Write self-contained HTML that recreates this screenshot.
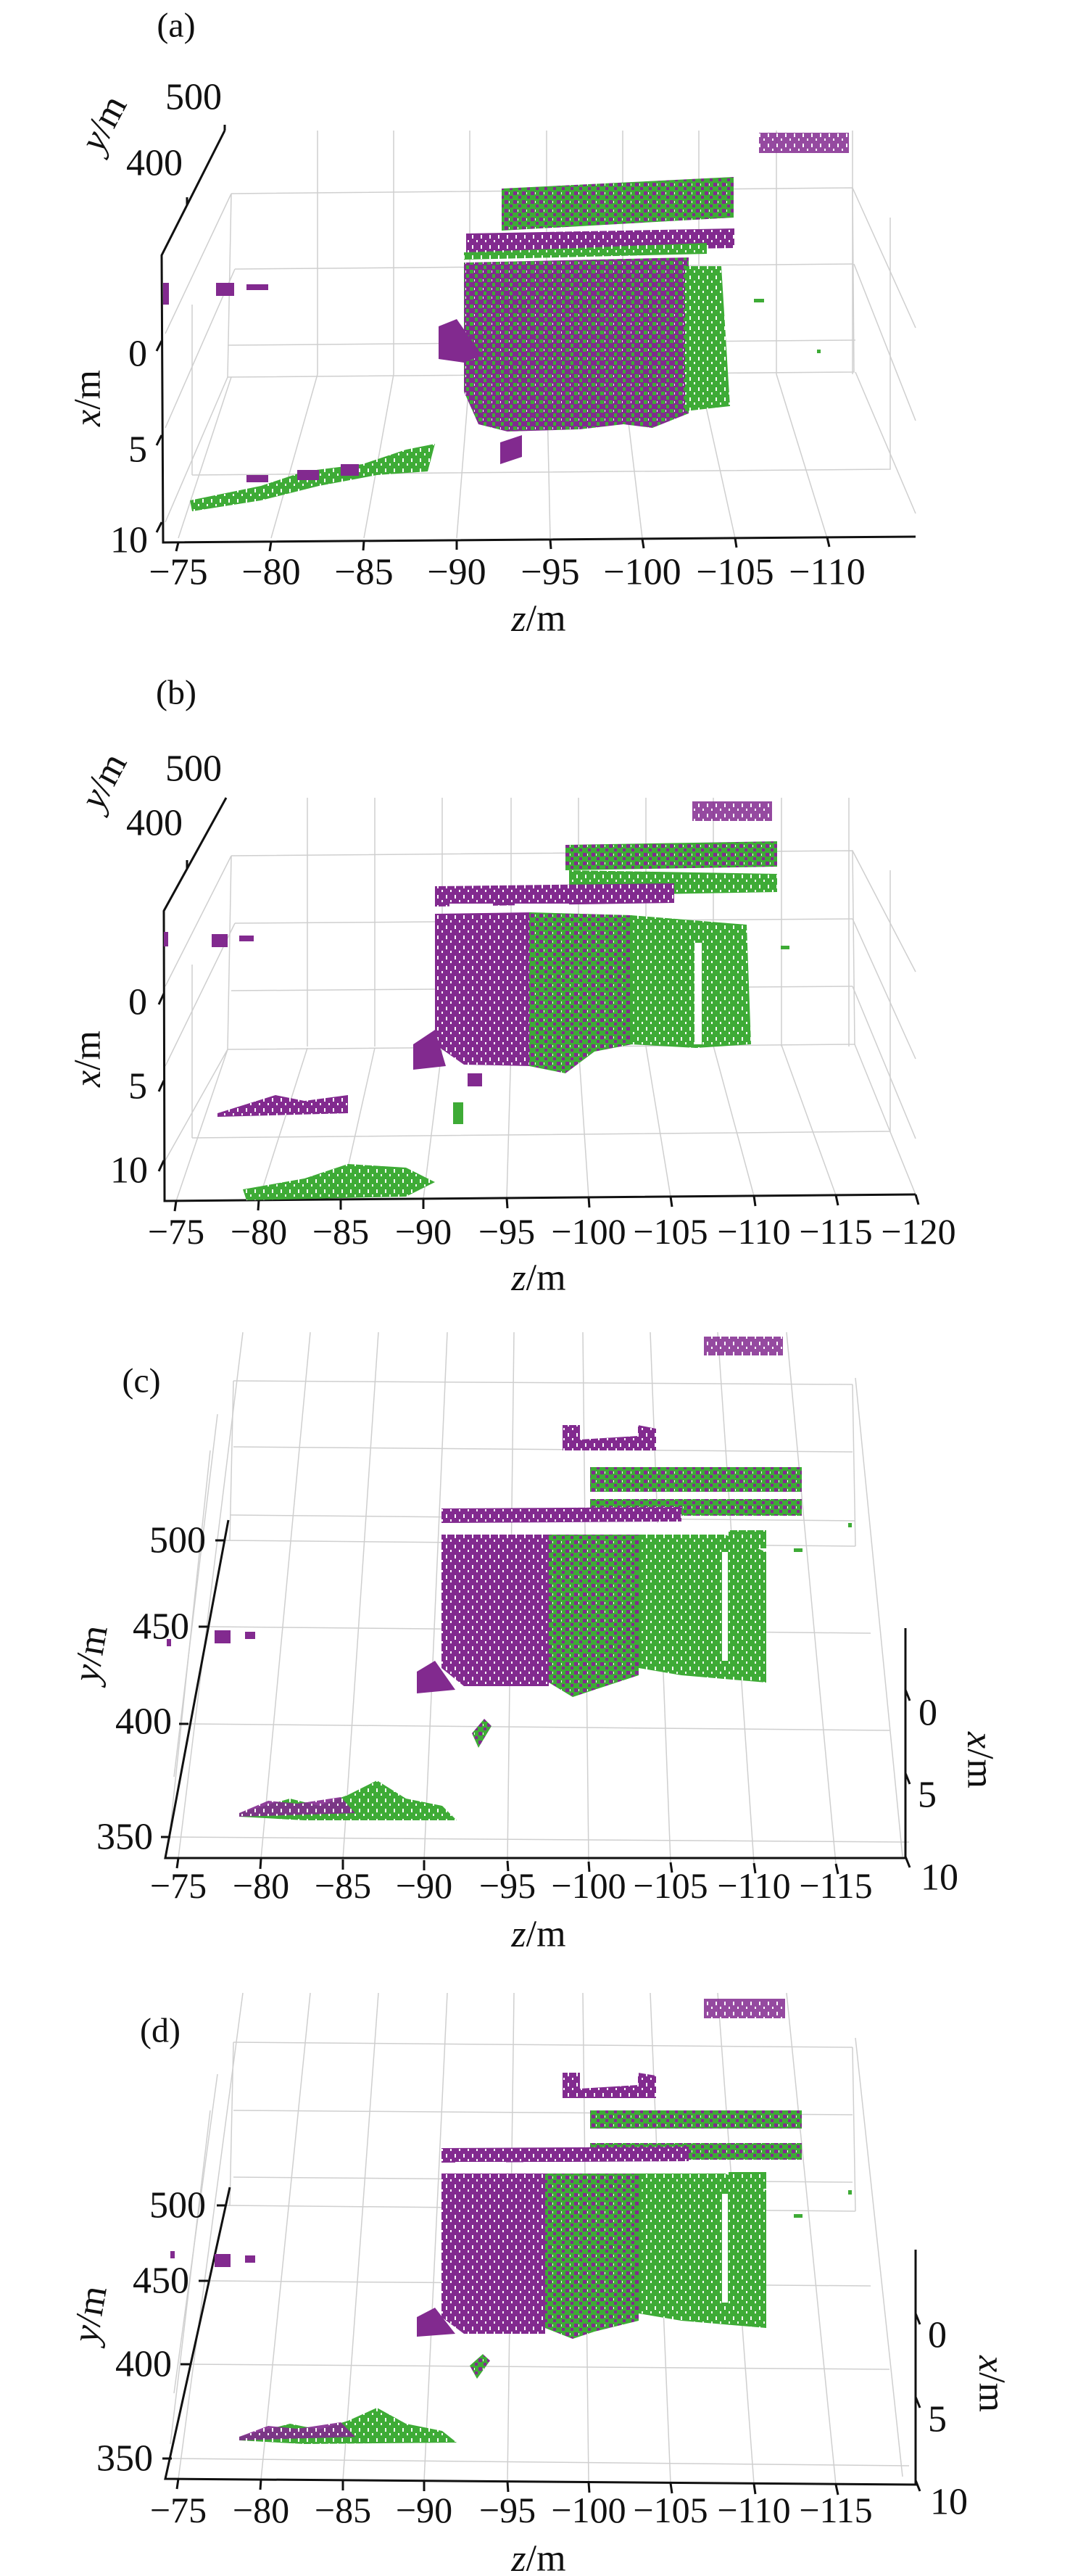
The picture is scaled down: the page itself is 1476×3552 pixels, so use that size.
<!DOCTYPE html>
<html><head><meta charset="utf-8"><style>
html,body{margin:0;padding:0;background:#fff}
svg{display:block}
text{font-family:"Liberation Serif",serif;fill:#111}
</style></head><body>
<svg width="1476" height="3552" viewBox="0 0 1476 3552" xmlns="http://www.w3.org/2000/svg">
<defs>
<pattern id="pP" width="12" height="14" patternUnits="userSpaceOnUse"><rect width="12" height="14" fill="#822a8f"/><rect x="3" y="2" width="2" height="5" fill="#fff"/><rect x="9" y="9" width="2" height="3" fill="#fff"/></pattern>
<pattern id="pG" width="12" height="14" patternUnits="userSpaceOnUse"><rect width="12" height="14" fill="#3eab36"/><rect x="3" y="2" width="2" height="5" fill="#fff"/><rect x="9" y="9" width="2" height="3" fill="#fff"/></pattern>
<pattern id="pMG" width="12" height="12" patternUnits="userSpaceOnUse"><rect width="12" height="12" fill="#3eab36"/><rect x="0" y="0" width="5" height="5" fill="#822a8f"/><rect x="7" y="6" width="4" height="4" fill="#822a8f"/><rect x="6" y="1" width="1" height="3" fill="#fff"/></pattern>
<pattern id="pMP" width="12" height="12" patternUnits="userSpaceOnUse"><rect width="12" height="12" fill="#822a8f"/><rect x="0" y="0" width="5" height="5" fill="#3eab36"/><rect x="7" y="6" width="4" height="5" fill="#3eab36"/><rect x="6" y="1" width="1" height="3" fill="#fff"/></pattern>
</defs>

<!-- ============ PANEL A ============ -->
<g stroke="#cfcfcf" stroke-width="1.5" fill="none">
<polyline points="319,267 1176,259 1178,513 314,520 319,267"/>
<line x1="324" y1="371" x2="1176" y2="364"/>
<line x1="314" y1="476" x2="1180" y2="469"/>
<polyline points="265,655 1228,647 1228,300"/>
<line x1="265" y1="655" x2="265" y2="420"/>
<line x1="438" y1="180" x2="438" y2="516"/><line x1="543" y1="180" x2="543" y2="516"/><line x1="648" y1="180" x2="648" y2="516"/><line x1="754" y1="180" x2="754" y2="516"/><line x1="859" y1="180" x2="859" y2="516"/><line x1="964" y1="180" x2="964" y2="516"/><line x1="1071" y1="180" x2="1071" y2="516"/><line x1="1176" y1="180" x2="1176" y2="516"/>
<line x1="319" y1="520" x2="246" y2="742"/><line x1="438" y1="516" x2="374" y2="742"/><line x1="543" y1="516" x2="502" y2="742"/><line x1="648" y1="516" x2="630" y2="742"/><line x1="754" y1="516" x2="759" y2="742"/><line x1="859" y1="516" x2="886" y2="742"/><line x1="964" y1="516" x2="1014" y2="742"/><line x1="1071" y1="516" x2="1141" y2="742"/>
<line x1="1176" y1="259" x2="1263" y2="452"/><line x1="1178" y1="364" x2="1263" y2="580"/><line x1="1180" y1="513" x2="1263" y2="708"/>
<line x1="319" y1="267" x2="228" y2="460"/><line x1="324" y1="371" x2="228" y2="590"/><line x1="314" y1="520" x2="228" y2="720"/>
</g>
<g stroke="#111" stroke-width="3" fill="none">
<polyline points="310,180 223,352 225,748 1263,740"/>
<line x1="310" y1="180" x2="310" y2="172"/><line x1="258" y1="283" x2="258" y2="272"/>
<line x1="223" y1="470" x2="216" y2="484"/><line x1="223" y1="600" x2="216" y2="614"/><line x1="223" y1="720" x2="216" y2="734"/>
<line x1="246" y1="748" x2="243" y2="760"/><line x1="374" y1="747" x2="372" y2="760"/><line x1="502" y1="746" x2="501" y2="759"/><line x1="630" y1="745" x2="630" y2="758"/><line x1="759" y1="744" x2="760" y2="757"/><line x1="886" y1="743" x2="888" y2="756"/><line x1="1014" y1="742" x2="1016" y2="755"/><line x1="1141" y1="741" x2="1144" y2="754"/>
</g>
<!-- clouds a -->
<rect x="1047" y="183" width="124" height="28" fill="url(#pP)" opacity="0.85"/>
<rect x="298" y="390" width="25" height="18" fill="#822a8f"/><rect x="340" y="392" width="30" height="8" fill="#822a8f"/><rect x="225" y="390" width="8" height="30" fill="#822a8f"/>
<polygon points="692,260 1012,244 1012,300 692,318" fill="url(#pMG)"/>
<polygon points="643,322 1013,315 1013,342 643,348" fill="url(#pP)"/>
<polygon points="640,348 975,335 975,350 640,358" fill="url(#pG)"/>
<polygon points="640,362 950,355 950,570 900,590 860,585 800,592 700,595 660,585 640,540" fill="url(#pMP)"/>
<polygon points="945,367 995,367 1007,560 945,567" fill="url(#pG)"/>
<polygon points="605,450 630,440 665,490 640,500 605,495" fill="#822a8f"/>
<polygon points="690,610 720,600 720,630 690,640" fill="#822a8f"/>
<polygon points="262,690 360,670 420,650 500,640 560,620 600,612 590,650 520,655 440,670 360,690 265,705" fill="url(#pG)"/>
<rect x="340" y="655" width="30" height="10" fill="#822a8f"/><rect x="410" y="648" width="30" height="14" fill="#822a8f"/><rect x="470" y="640" width="25" height="16" fill="#822a8f"/>
<rect x="1040" y="412" width="14" height="5" fill="#3eab36"/><rect x="1127" y="482" width="5" height="5" fill="#3eab36"/>
<!-- text a -->
<text x="243" y="35" font-size="48" text-anchor="middle" dominant-baseline="central">(a)</text>
<g font-size="52" text-anchor="middle" dominant-baseline="central">
<text x="267" y="134">500</text><text x="213" y="225">400</text><text x="190" y="488">0</text><text x="190" y="620">5</text><text x="178" y="745">10</text>
<text x="246" y="789">−75</text><text x="374" y="789">−80</text><text x="502" y="789">−85</text><text x="630" y="789">−90</text><text x="759" y="789">−95</text><text x="886" y="789">−100</text><text x="1014" y="789">−105</text><text x="1141" y="789">−110</text>
<text x="743" y="853"><tspan font-style="italic">z</tspan>/m</text>
<text transform="translate(143,170) rotate(-62)"><tspan font-style="italic">y</tspan>/m</text>
<text transform="translate(121,549) rotate(-90)"><tspan font-style="italic">x</tspan>/m</text>
</g>

<!-- ============ PANEL B ============ -->
<g stroke="#cfcfcf" stroke-width="1.5" fill="none">
<polyline points="319,1180 1176,1173 1179,1440 314,1447 319,1180"/>
<line x1="324" y1="1273" x2="1176" y2="1267"/><line x1="319" y1="1366" x2="1176" y2="1360"/>
<polyline points="265,1569 1228,1560 1228,1200"/><line x1="265" y1="1569" x2="265" y2="1330"/>
<line x1="424" y1="1100" x2="424" y2="1443"/><line x1="517" y1="1100" x2="517" y2="1443"/><line x1="610" y1="1100" x2="610" y2="1443"/><line x1="705" y1="1100" x2="705" y2="1443"/><line x1="798" y1="1100" x2="798" y2="1443"/><line x1="891" y1="1100" x2="891" y2="1443"/><line x1="984" y1="1100" x2="984" y2="1443"/><line x1="1078" y1="1100" x2="1078" y2="1443"/><line x1="1171" y1="1100" x2="1171" y2="1443"/>
<line x1="314" y1="1447" x2="243" y2="1656"/><line x1="424" y1="1445" x2="357" y2="1655"/><line x1="517" y1="1445" x2="470" y2="1654"/><line x1="610" y1="1444" x2="584" y2="1653"/><line x1="705" y1="1444" x2="699" y2="1652"/><line x1="798" y1="1443" x2="812" y2="1651"/><line x1="891" y1="1443" x2="925" y2="1650"/><line x1="984" y1="1442" x2="1040" y2="1649"/><line x1="1078" y1="1441" x2="1153" y2="1648"/><line x1="1179" y1="1440" x2="1263" y2="1647"/>
<line x1="1176" y1="1173" x2="1263" y2="1340"/><line x1="1176" y1="1267" x2="1263" y2="1460"/><line x1="1176" y1="1360" x2="1263" y2="1570"/>
<line x1="319" y1="1180" x2="228" y2="1360"/><line x1="324" y1="1273" x2="228" y2="1470"/><line x1="314" y1="1447" x2="228" y2="1600"/>
</g>
<g stroke="#111" stroke-width="3" fill="none">
<polyline points="312,1100 226,1256 227,1656 1263,1647"/>
<line x1="258" y1="1198" x2="258" y2="1186"/>
<line x1="226" y1="1370" x2="219" y2="1385"/><line x1="226" y1="1490" x2="219" y2="1505"/><line x1="226" y1="1600" x2="219" y2="1615"/>
<line x1="243" y1="1656" x2="241" y2="1670"/><line x1="357" y1="1655" x2="356" y2="1669"/><line x1="470" y1="1654" x2="470" y2="1668"/><line x1="584" y1="1653" x2="584" y2="1667"/><line x1="699" y1="1652" x2="700" y2="1666"/><line x1="812" y1="1651" x2="813" y2="1665"/><line x1="925" y1="1650" x2="927" y2="1664"/><line x1="1040" y1="1649" x2="1042" y2="1663"/><line x1="1153" y1="1648" x2="1156" y2="1662"/><line x1="1263" y1="1647" x2="1267" y2="1661"/>
</g>
<rect x="955" y="1105" width="110" height="27" fill="url(#pP)" opacity="0.85"/>
<rect x="292" y="1288" width="22" height="18" fill="#822a8f"/><rect x="330" y="1290" width="20" height="8" fill="#822a8f"/><rect x="226" y="1285" width="6" height="20" fill="#822a8f"/>
<polygon points="780,1165 1072,1160 1072,1195 780,1200" fill="url(#pMG)"/>
<polygon points="785,1200 1072,1205 1072,1230 785,1235" fill="url(#pG)"/>
<polygon points="600,1222 930,1218 930,1245 600,1250" fill="url(#pP)"/>
<rect x="620" y="1246" width="60" height="14" fill="#fff"/><rect x="710" y="1246" width="75" height="14" fill="#fff"/>
<polygon points="600,1260 733,1258 733,1470 640,1468 600,1440" fill="url(#pP)"/>
<polygon points="730,1258 872,1262 872,1440 820,1450 780,1480 730,1470" fill="url(#pMG)"/>
<polygon points="870,1262 1030,1275 1036,1440 960,1445 870,1440" fill="url(#pG)"/>
<rect x="958" y="1300" width="10" height="140" fill="#fff"/>
<polygon points="570,1440 600,1420 615,1470 570,1475" fill="#822a8f"/>
<rect x="645" y="1480" width="20" height="18" fill="#822a8f"/><rect x="625" y="1520" width="14" height="30" fill="#3eab36"/>
<polygon points="300,1535 380,1510 420,1518 480,1510 480,1535 300,1540" fill="url(#pP)"/>
<polygon points="335,1640 420,1625 480,1605 560,1610 600,1630 560,1650 340,1655" fill="url(#pG)"/>
<rect x="1077" y="1304" width="12" height="5" fill="#3eab36"/>
<text x="243" y="955" font-size="48" text-anchor="middle" dominant-baseline="central">(b)</text>
<g font-size="52" text-anchor="middle" dominant-baseline="central">
<text x="267" y="1060">500</text><text x="213" y="1135">400</text><text x="190" y="1382">0</text><text x="190" y="1498">5</text><text x="178" y="1614">10</text>
<g font-size="50"><text x="243" y="1698">−75</text><text x="357" y="1698">−80</text><text x="470" y="1698">−85</text><text x="584" y="1698">−90</text><text x="699" y="1698">−95</text><text x="812" y="1698">−100</text><text x="925" y="1698">−105</text><text x="1040" y="1698">−110</text><text x="1153" y="1698">−115</text><text x="1267" y="1698">−120</text></g>
<text x="743" y="1762"><tspan font-style="italic">z</tspan>/m</text>
<text transform="translate(143,1077) rotate(-62)"><tspan font-style="italic">y</tspan>/m</text>
<text transform="translate(121,1460) rotate(-90)"><tspan font-style="italic">x</tspan>/m</text>
</g>

<!-- ============ PANEL C ============ -->
<g stroke="#cfcfcf" stroke-width="1.5" fill="none">
<line x1="322" y1="1904" x2="1176" y2="1909"/><line x1="322" y1="1995" x2="1176" y2="2002"/><line x1="317" y1="2089" x2="1180" y2="2097"/>
<line x1="310" y1="2124" x2="1180" y2="2132"/><line x1="287" y1="2243" x2="1201" y2="2252"/><line x1="260" y1="2377" x2="1227" y2="2386"/><line x1="235" y1="2533" x2="1254" y2="2540"/>
<line x1="322" y1="1904" x2="317" y2="2124"/><line x1="1176" y1="1909" x2="1180" y2="2132"/>
<line x1="335" y1="1837" x2="246" y2="2562"/><line x1="428" y1="1837" x2="360" y2="2563"/><line x1="522" y1="1837" x2="473" y2="2564"/><line x1="617" y1="1837" x2="585" y2="2565"/><line x1="709" y1="1837" x2="700" y2="2566"/><line x1="804" y1="1837" x2="812" y2="2567"/><line x1="897" y1="1837" x2="925" y2="2568"/><line x1="990" y1="1837" x2="1040" y2="2569"/><line x1="1085" y1="1837" x2="1153" y2="2570"/><line x1="1180" y1="1900" x2="1245" y2="2560"/>
<line x1="300" y1="1950" x2="240" y2="2450"/><line x1="290" y1="2000" x2="235" y2="2520"/>
</g>
<g stroke="#111" stroke-width="3" fill="none">
<polyline points="315,2096 228,2562 1249,2562 1249,2245"/>
<line x1="297" y1="2124" x2="310" y2="2124"/><line x1="274" y1="2243" x2="287" y2="2243"/><line x1="247" y1="2377" x2="260" y2="2377"/><line x1="222" y1="2533" x2="235" y2="2533"/>
<line x1="1249" y1="2330" x2="1255" y2="2345"/><line x1="1249" y1="2445" x2="1255" y2="2460"/><line x1="1249" y1="2560" x2="1255" y2="2575"/>
<line x1="246" y1="2562" x2="244" y2="2576"/><line x1="360" y1="2563" x2="359" y2="2577"/><line x1="473" y1="2564" x2="473" y2="2578"/><line x1="585" y1="2565" x2="585" y2="2579"/><line x1="700" y1="2566" x2="701" y2="2580"/><line x1="812" y1="2567" x2="813" y2="2581"/><line x1="925" y1="2568" x2="927" y2="2582"/><line x1="1040" y1="2569" x2="1042" y2="2583"/><line x1="1153" y1="2570" x2="1156" y2="2584"/>
</g>
<rect x="971" y="1843" width="109" height="26" fill="url(#pP)" opacity="0.85"/>
<polygon points="776,1965 800,1965 800,1985 880,1980 880,1965 905,1970 905,2000 776,2000" fill="url(#pP)"/>
<polygon points="814,2023 1106,2023 1106,2057 814,2057" fill="url(#pMG)"/>
<polygon points="814,2067 1106,2067 1106,2090 814,2090" fill="url(#pMG)"/>
<polygon points="609,2080 940,2078 940,2098 609,2100" fill="url(#pP)"/>
<rect x="628" y="2100" width="70" height="16" fill="#fff"/><rect x="722" y="2100" width="70" height="16" fill="#fff"/><rect x="810" y="2100" width="80" height="16" fill="#fff"/><rect x="900" y="2100" width="80" height="16" fill="#fff"/>
<polygon points="609,2116 757,2116 757,2325 640,2325 609,2300" fill="url(#pP)"/>
<polygon points="757,2116 881,2116 881,2310 820,2330 790,2340 757,2320" fill="url(#pMG)"/>
<polygon points="881,2116 1000,2116 1057,2140 1057,2320 940,2310 881,2300" fill="url(#pG)"/>
<rect x="996" y="2140" width="8" height="150" fill="#fff"/>
<polygon points="1005,2110 1057,2110 1057,2135 1005,2135" fill="url(#pG)"/>
<polygon points="575,2305 600,2290 628,2330 575,2335" fill="#822a8f"/>
<polygon points="651,2390 668,2370 678,2380 660,2410" fill="url(#pMG)"/>
<rect x="296" y="2248" width="22" height="18" fill="#822a8f"/><rect x="338" y="2250" width="14" height="10" fill="#822a8f"/><rect x="230" y="2260" width="6" height="10" fill="#822a8f"/>
<polygon points="330,2500 400,2480 440,2490 480,2475 520,2455 560,2480 610,2490 630,2510 420,2510 330,2505" fill="url(#pG)"/>
<polygon points="330,2500 370,2483 410,2487 470,2478 490,2500 330,2505" fill="url(#pP)" opacity="0.9"/>
<rect x="1095" y="2135" width="12" height="5" fill="#3eab36"/><rect x="1170" y="2100" width="5" height="6" fill="#3eab36"/>
<text x="195" y="1904" font-size="48" text-anchor="middle" dominant-baseline="central">(c)</text>
<g font-size="52" text-anchor="middle" dominant-baseline="central">
<text x="245" y="2124">500</text><text x="222" y="2243">450</text><text x="198" y="2374">400</text><text x="172" y="2533">350</text>
<text x="1280" y="2362">0</text><text x="1279" y="2475">5</text><text x="1296" y="2589">10</text>
<g font-size="50"><text x="246" y="2600">−75</text><text x="360" y="2600">−80</text><text x="473" y="2600">−85</text><text x="585" y="2600">−90</text><text x="700" y="2600">−95</text><text x="812" y="2600">−100</text><text x="925" y="2600">−105</text><text x="1040" y="2600">−110</text><text x="1153" y="2600">−115</text></g>
<text x="743" y="2667"><tspan font-style="italic">z</tspan>/m</text>
<text transform="translate(125,2280) rotate(-80)"><tspan font-style="italic">y</tspan>/m</text>
<text transform="translate(1352,2427) rotate(90)"><tspan font-style="italic">x</tspan>/m</text>
</g>

<!-- ============ PANEL D ============ -->
<g stroke="#cfcfcf" stroke-width="1.5" fill="none">
<line x1="322" y1="2816" x2="1176" y2="2823"/><line x1="322" y1="2910" x2="1176" y2="2916"/><line x1="322" y1="3002" x2="1176" y2="3009"/>
<line x1="312" y1="3041" x2="1180" y2="3049"/><line x1="287" y1="3145" x2="1201" y2="3152"/><line x1="262" y1="3260" x2="1227" y2="3267"/><line x1="237" y1="3390" x2="1254" y2="3400"/>
<line x1="322" y1="2816" x2="317" y2="3041"/><line x1="1176" y1="2823" x2="1180" y2="3049"/>
<line x1="335" y1="2748" x2="246" y2="3418"/><line x1="428" y1="2748" x2="360" y2="3419"/><line x1="522" y1="2748" x2="473" y2="3420"/><line x1="617" y1="2748" x2="585" y2="3421"/><line x1="709" y1="2748" x2="700" y2="3422"/><line x1="804" y1="2748" x2="812" y2="3423"/><line x1="897" y1="2748" x2="925" y2="3424"/><line x1="990" y1="2748" x2="1040" y2="3425"/><line x1="1085" y1="2748" x2="1153" y2="3426"/><line x1="1180" y1="2810" x2="1245" y2="3415"/>
<line x1="300" y1="2860" x2="240" y2="3300"/><line x1="290" y1="2910" x2="235" y2="3370"/>
</g>
<g stroke="#111" stroke-width="3" fill="none">
<polyline points="317,3016 228,3418 1263,3426 1263,3102"/>
<line x1="299" y1="3041" x2="312" y2="3041"/><line x1="274" y1="3145" x2="287" y2="3145"/><line x1="249" y1="3260" x2="262" y2="3260"/><line x1="224" y1="3390" x2="237" y2="3390"/>
<line x1="1263" y1="3190" x2="1269" y2="3205"/><line x1="1263" y1="3305" x2="1269" y2="3320"/><line x1="1263" y1="3420" x2="1269" y2="3435"/>
<line x1="246" y1="3418" x2="244" y2="3432"/><line x1="360" y1="3419" x2="359" y2="3433"/><line x1="473" y1="3420" x2="473" y2="3434"/><line x1="585" y1="3421" x2="585" y2="3435"/><line x1="700" y1="3422" x2="701" y2="3436"/><line x1="812" y1="3423" x2="813" y2="3437"/><line x1="925" y1="3424" x2="927" y2="3438"/><line x1="1040" y1="3425" x2="1042" y2="3439"/><line x1="1153" y1="3426" x2="1156" y2="3440"/>
</g>
<rect x="971" y="2756" width="112" height="27" fill="url(#pP)" opacity="0.85"/>
<polygon points="776,2858 800,2858 800,2880 880,2875 880,2858 905,2862 905,2893 776,2893" fill="url(#pP)"/>
<polygon points="814,2910 1106,2910 1106,2935 814,2935" fill="url(#pMG)"/>
<polygon points="814,2955 1106,2955 1106,2978 814,2978" fill="url(#pMG)"/>
<polygon points="609,2962 950,2960 950,2980 609,2982" fill="url(#pP)"/>
<rect x="628" y="2981" width="70" height="16" fill="#fff"/><rect x="722" y="2981" width="70" height="16" fill="#fff"/><rect x="810" y="2981" width="80" height="16" fill="#fff"/><rect x="900" y="2981" width="80" height="16" fill="#fff"/>
<polygon points="609,2997 752,2997 752,3218 640,3218 609,3195" fill="url(#pP)"/>
<polygon points="752,2997 881,2997 881,3200 820,3215 790,3225 752,3210" fill="url(#pMG)"/>
<polygon points="881,2997 1000,2997 1057,3020 1057,3210 940,3200 881,3190" fill="url(#pG)"/>
<rect x="996" y="3025" width="8" height="150" fill="#fff"/>
<polygon points="1005,2995 1057,2995 1057,3018 1005,3018" fill="url(#pG)"/>
<polygon points="575,3195 600,3182 628,3218 575,3222" fill="#822a8f"/>
<polygon points="648,3262 666,3246 676,3255 658,3280" fill="url(#pMG)"/>
<rect x="296" y="3108" width="22" height="18" fill="#822a8f"/><rect x="338" y="3110" width="14" height="10" fill="#822a8f"/><rect x="235" y="3104" width="6" height="10" fill="#822a8f"/>
<polygon points="330,3360 400,3342 440,3350 480,3338 520,3320 560,3342 610,3352 630,3368 420,3370 330,3365" fill="url(#pG)"/>
<polygon points="330,3360 370,3345 410,3349 470,3340 490,3360 330,3365" fill="url(#pP)" opacity="0.9"/>
<rect x="1095" y="3053" width="12" height="5" fill="#3eab36"/><rect x="1170" y="3020" width="5" height="6" fill="#3eab36"/>
<text x="221" y="2800" font-size="48" text-anchor="middle" dominant-baseline="central">(d)</text>
<g font-size="52" text-anchor="middle" dominant-baseline="central">
<text x="245" y="3041">500</text><text x="222" y="3145">450</text><text x="198" y="3260">400</text><text x="172" y="3390">350</text>
<text x="1293" y="3220">0</text><text x="1293" y="3336">5</text><text x="1309" y="3450">10</text>
<g font-size="50"><text x="246" y="3461">−75</text><text x="360" y="3461">−80</text><text x="473" y="3461">−85</text><text x="585" y="3461">−90</text><text x="700" y="3461">−95</text><text x="812" y="3461">−100</text><text x="925" y="3461">−105</text><text x="1040" y="3461">−110</text><text x="1153" y="3461">−115</text></g>
<text x="743" y="3528"><tspan font-style="italic">z</tspan>/m</text>
<text transform="translate(124,3191) rotate(-80)"><tspan font-style="italic">y</tspan>/m</text>
<text transform="translate(1368,3287) rotate(90)"><tspan font-style="italic">x</tspan>/m</text>
</g>
</svg>
</body></html>
